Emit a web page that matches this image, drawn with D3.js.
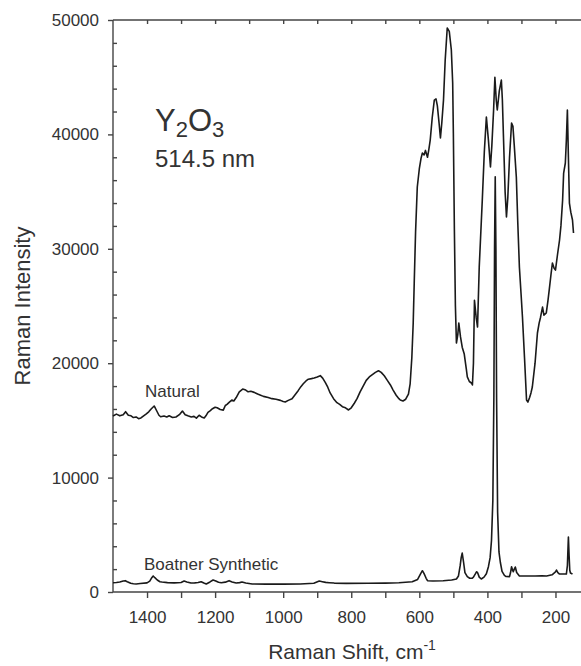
<!DOCTYPE html>
<html>
<head>
<meta charset="utf-8">
<script src="https://cdn.jsdelivr.net/npm/d3@7"></script>
<style>
  body { margin: 0; background: #fff; }
  svg text { font-family: "Liberation Sans", Arial, sans-serif; fill: #333; }
  .axis path, .axis line { stroke: #444; stroke-width: 1.4; }
  .axis text { font-size: 17px; fill: #333; }
</style>
</head>
<body>
<div id="chart"></div>
<script>
// Natural sample spectrum (Raman shift cm-1, intensity)
var natShift = [1500,1490,1480,1470,1463,1455,1447,1440,1432,1425,1418,1410,1403,1395,1388,1379,1371,1365,1360,1350,1342,1335,1325,1315,1305,1296,1288,1280,1270,1262,1255,1247,1240,1232,1227,1221,1214,1209,1200,1194,1185,1176,1170,1165,1158,1151,1145,1138,1129,1119,1110,1103,1095,1085,1075,1068,1058,1044,1033,1021,1008,1000,994,985,974,965,956,948,941,933,926,917,909,900,891,884,876,869,862,852,842,834,826,817,808,800,791,783,774,765,756,747,738,729,720,712,703,694,685,677,668,660,656,648,640,632,627,622,618,615,611,606,600,595,591,586,582,578,576,572,568,562,556,551,547,542,538,534,529,524,518,512,506,502,500,497,494,491,487,484,479,474,468,462,459,453,447,444,441,438,433,429,424,415,409,403,397,391,387,382,378,374,371,365,359,356,353,348,344,340,335,329,325,321,315,311,306,301,297,291,285,281,276,272,268,260,253,248,244,238,234,227,222,218,213,209,204,200,194,188,184,179,176,171,168,165,162,159,155,150,147];
var natIntensity = [15380,15550,15400,15500,15760,15450,15400,15250,15300,15150,15210,15400,15550,15750,16000,16260,15800,15450,15320,15380,15300,15400,15250,15300,15500,15820,15500,15400,15300,15350,15200,15450,15300,15210,15400,15700,15850,16000,16150,16100,15950,15900,16300,16400,16600,16780,16700,17000,17500,17740,17650,17500,17550,17450,17300,17220,17100,17000,16900,16850,16750,16650,16610,16750,16900,17250,17600,17950,18200,18450,18600,18650,18700,18800,18910,18700,18300,17900,17400,16900,16550,16400,16200,16100,15910,16100,16500,16900,17500,18000,18500,18800,19000,19200,19340,19200,18900,18500,18100,17650,17200,16900,16780,16700,16850,17300,18200,20500,23500,27000,31500,35400,37000,37900,38370,38200,38600,38200,38000,38700,39500,41500,43000,43100,42500,41000,39700,41000,43000,46500,49300,49000,47400,44500,40100,31640,25000,21760,22500,23500,22300,21400,20800,19500,18800,18400,18270,18100,20000,25500,24000,23160,28400,34270,38500,41520,39500,37150,39000,42000,45000,43000,42130,43800,44750,43000,40000,35000,32780,34500,38000,40990,40700,39000,36270,32500,28400,26000,24040,20500,16780,16600,17000,17400,17920,20000,22640,23500,24000,24910,24200,24390,25500,26500,27800,28760,28300,28140,29500,30770,32000,34270,36620,37500,39500,42130,38000,34000,33200,32520,31380];

// Boatner synthetic spectrum
var synShift = [1500,1490,1480,1470,1464,1458,1448,1440,1432,1420,1400,1392,1386,1382,1377,1370,1362,1356,1340,1320,1300,1291,1283,1271,1260,1250,1241,1233,1226,1215,1206,1198,1190,1182,1170,1159,1150,1138,1128,1121,1110,1091,1050,1000,950,910,894,885,875,865,850,815,750,700,660,621,605,596,591,586,580,576,560,530,505,491,485,480,477,474,470,466,459,452,445,441,435,432,429,424,418,410,403,397,392,388,384,381,379,377,375,373,370,366,362,357,350,345,335,332,329,326,324,321,318,314,306,290,260,240,226,210,200,197,193,188,175,168,165,163,162,160,158,156,150];
var synIntensity = [815,830,870,960,990,900,760,720,700,740,800,950,1250,1400,1250,1050,900,870,820,800,830,960,880,787,800,830,900,780,700,880,1050,960,850,815,860,990,880,790,820,870,780,700,690,690,700,760,960,900,840,815,780,757,760,780,810,900,1100,1600,1860,1600,1200,990,960,980,1050,1136,1400,2300,3000,3400,2600,1700,1340,1200,1200,1300,1600,1770,1700,1300,1136,1300,1600,2210,3000,4500,8000,17000,30000,36300,30000,17000,7000,3500,2600,1800,1450,1350,1340,1700,2210,1900,1770,2000,2180,1700,1400,1400,1400,1420,1400,1500,1750,1920,1700,1570,1580,1570,2300,4000,4800,3200,1900,1660,1570];

var yTicks = [0, 10000, 20000, 30000, 40000, 50000];
var xTicks = [1400, 1200, 1000, 800, 600, 400, 200];

var width = 581, height = 666;
var plotLeft = 113, plotRight = 581, plotTop = 20, plotBottom = 592;

var svg = d3.select("#chart").append("svg")
  .attr("width", width)
  .attr("height", height);

var x = d3.scaleLinear().domain([1500, 125]).range([plotLeft, plotRight]);
var y = d3.scaleLinear().domain([0, 50000]).range([plotBottom, plotTop]);

var hundreds = d3.range(1400, 100, -100);

// bottom axis, ticks every 100, labels every 200
svg.append("g")
  .attr("class", "axis")
  .attr("transform", "translate(0," + plotBottom + ")")
  .call(d3.axisBottom(x).tickValues(hundreds).tickSize(6).tickPadding(13)
    .tickFormat(function (d) { return xTicks.indexOf(d) >= 0 ? d : ""; }))
  .call(function (g) { g.select(".domain").attr("d", "M" + plotLeft + ",0H" + plotRight); });

// top axis, inward ticks
svg.append("g")
  .attr("class", "axis")
  .attr("transform", "translate(0," + plotTop + ")")
  .call(d3.axisTop(x).tickValues(hundreds).tickSize(-4).tickFormat(""))
  .call(function (g) { g.select(".domain").attr("d", "M" + plotLeft + ",0H" + plotRight); });

// left axis
svg.append("g")
  .attr("class", "axis")
  .attr("transform", "translate(" + plotLeft + ",0)")
  .call(d3.axisLeft(y).tickValues(yTicks).tickSize(5).tickPadding(9).tickFormat(d3.format("d")))
  .call(function (g) { g.select(".domain").attr("d", "M0," + plotTop + "V" + plotBottom); });

// minor y ticks every 2000, inside
svg.append("g")
  .attr("class", "axis")
  .attr("transform", "translate(" + plotLeft + ",0)")
  .call(d3.axisRight(y).tickValues(d3.range(2000, 50000, 2000).filter(function (d) { return d % 10000 != 0; }))
    .tickSize(4).tickFormat(""))
  .call(function (g) { g.select(".domain").remove(); });

var line = d3.line()
  .x(function (d) { return x(d[0]); })
  .y(function (d) { return y(d[1]); });

svg.append("path")
  .datum(d3.zip(natShift, natIntensity))
  .attr("d", line)
  .attr("fill", "none")
  .attr("stroke", "#1a1a1a")
  .attr("stroke-width", 1.6)
  .attr("stroke-linejoin", "round");

svg.append("path")
  .datum(d3.zip(synShift, synIntensity))
  .attr("d", line)
  .attr("fill", "none")
  .attr("stroke", "#1a1a1a")
  .attr("stroke-width", 1.6)
  .attr("stroke-linejoin", "round");

// labels
svg.append("text").attr("x", 145).attr("y", 397).style("font-size", "17px").text("Natural");
svg.append("text").attr("x", 144).attr("y", 570).style("font-size", "17px").text("Boatner Synthetic");

var formula = svg.append("text").attr("x", 155).attr("y", 131).style("font-size", "31px");
formula.append("tspan").text("Y");
formula.append("tspan").attr("dy", 6).style("font-size", "22px").text("2");
formula.append("tspan").attr("dy", -6).text("O");
formula.append("tspan").attr("dy", 6).style("font-size", "22px").text("3");

svg.append("text").attr("x", 155).attr("y", 167).style("font-size", "24px").text("514.5 nm");

// axis titles
svg.append("text")
  .attr("transform", "translate(30," + ((plotTop + plotBottom) / 2) + ")rotate(-90)")
  .attr("text-anchor", "middle")
  .style("font-size", "22px")
  .text("Raman Intensity");

var xTitle = svg.append("text")
  .attr("x", 352).attr("y", 659)
  .attr("text-anchor", "middle")
  .style("font-size", "21px");
xTitle.append("tspan").text("Raman Shift, cm");
xTitle.append("tspan").attr("dy", -9).style("font-size", "14px").text("-1");
</script>
</body>
</html>
